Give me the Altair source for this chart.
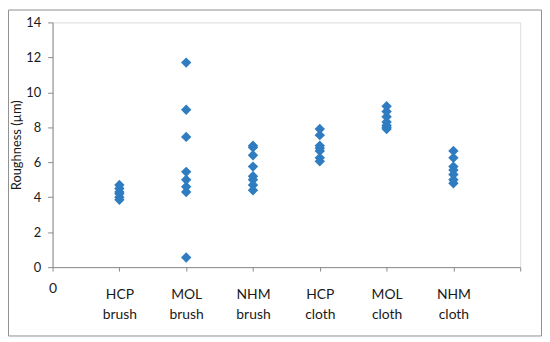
import altair as alt
import pandas as pd

categories = ["HCP brush", "MOL brush", "NHM brush", "HCP cloth", "MOL cloth", "NHM cloth"]
positions = [1, 2, 3, 4, 5, 6]
hcp_brush = [4.7, 4.5, 4.3, 4.2, 4.0, 3.85]
mol_brush = [11.7, 9.0, 7.45, 5.45, 5.0, 4.6, 4.3, 0.55]
nhm_brush = [6.95, 6.85, 6.4, 5.75, 5.2, 5.0, 4.7, 4.4]
hcp_cloth = [7.9, 7.55, 6.95, 6.8, 6.65, 6.25, 6.05]
mol_cloth = [9.2, 8.9, 8.6, 8.3, 8.1, 8.0, 7.9]
nhm_cloth = [6.65, 6.25, 5.75, 5.55, 5.3, 5.0, 4.8]
y_ticks = [0, 2, 4, 6, 8, 10, 12, 14]
x_ticks = [0, 1, 2, 3, 4, 5, 6, 7]

series = [hcp_brush, mol_brush, nhm_brush, hcp_cloth, mol_cloth, nhm_cloth]
rows = []
for cat, pos, vals in zip(categories, positions, series):
    for v in vals:
        rows.append({"category": cat, "pos": pos, "value": v})
df = pd.DataFrame(rows)

# label expression built from the category list
expr = ""
for cat, pos in zip(categories, positions):
    a, b = cat.split(" ")
    expr += f"datum.value == {pos} ? ['{a}', '{b}'] : "
expr += "datum.value == 0 ? '0' : ''"

W, H = 472, 247
PL, PT, PR, PB = 45, 13, 22, 70

FONT = "Lato"
AXIS_COLOR = "#8a8a8a"

points = alt.Chart(df).mark_point(
    shape="diamond", filled=True, size=110, color="#2F7DC0", opacity=1
).encode(
    x=alt.X(
        "pos:Q",
        scale=alt.Scale(domain=[0, 7], nice=False, zero=False),
        axis=alt.Axis(
            values=x_ticks,
            labelExpr=expr,
            title=None,
            grid=False,
            domainColor=AXIS_COLOR,
            tickColor=AXIS_COLOR,
            tickSize=4,
            labelFont=FONT,
            labelFontSize=14,
            labelColor="#1a1a1a",
            labelPadding={"condition": {"test": "datum.value == 0", "value": 11}, "value": 17},
            labelBaseline="top",
            labelLineHeight=20,
            labelAlign="center",
            labelFlush=False,
            labelOverlap=False,
        ),
    ),
    y=alt.Y(
        "value:Q",
        scale=alt.Scale(domain=[0, 14], nice=False),
        axis=alt.Axis(
            values=y_ticks,
            title="Roughness (µm)",
            grid=False,
            domainColor=AXIS_COLOR,
            tickColor=AXIS_COLOR,
            tickSize=5,
            labelFont=FONT,
            labelFontSize=13,
            labelColor="#1a1a1a",
            labelPadding=7,
            titleFont=FONT,
            titleFontSize=13,
            titleFontWeight="normal",
            titleColor="#1a1a1a",
            titlePadding=2,
        ),
    ),
)

border = alt.Chart(pd.DataFrame({"a": [0]})).mark_rect(
    filled=False, stroke="#909090", strokeWidth=1, clip=False
).encode(
    x=alt.value(-PL + 0.5),
    x2=alt.value(W + PR - 0.5),
    y=alt.value(-PT + 0.5),
    y2=alt.value(H + PB - 0.5),
)

chart = alt.layer(border, points).properties(
    width=W,
    height=H,
    padding={"left": PL, "top": PT, "right": PR, "bottom": PB},
    autosize=alt.AutoSizeParams(type="none"),
).configure_view(stroke=None).configure(background="white")

chart.save("out.html", embed_options={"renderer": "svg", "actions": False})
